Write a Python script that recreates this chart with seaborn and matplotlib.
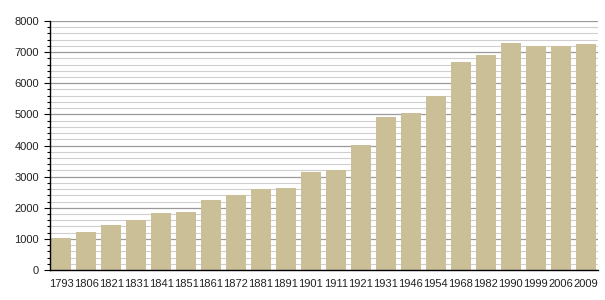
import matplotlib
matplotlib.use("Agg")
import matplotlib.pyplot as plt
from matplotlib.ticker import MultipleLocator
import seaborn as sns
import pandas as pd

years = ["1793", "1806", "1821", "1831", "1841", "1851", "1861", "1872", "1881", "1891", "1901",
         "1911", "1921", "1931", "1946", "1954", "1968", "1982", "1990", "1999", "2006", "2009"]
population = [1027, 1219, 1435, 1604, 1829, 1861, 2246, 2396, 2589, 2631, 3155,
              3199, 4011, 4910, 5037, 5595, 6688, 6913, 7299, 7212, 7212, 7267]

sns.set_style("white")
plt.rcParams['font.family'] = ['Liberation Sans', 'DejaVu Sans']

df = pd.DataFrame({"year": years, "pop": population})

fig = plt.figure(figsize=(6.05, 3.0), dpi=100)
ax = fig.add_axes([50/605, 30/300, 548/605, 249/300])

sns.barplot(data=df, x="year", y="pop", order=years, color="#CBBF98", saturation=1,
            width=0.8, ax=ax, zorder=3, linewidth=0)

ax.set_ylim(0, 8000)
ax.set_xlim(-0.45, 21.5)
ax.yaxis.set_major_locator(MultipleLocator(1000))
ax.yaxis.set_minor_locator(MultipleLocator(200))
ax.grid(which="major", axis="y", color="#9a9a9a", linewidth=0.9, zorder=0)
ax.grid(which="minor", axis="y", color="#cfcfcf", linewidth=0.8, zorder=0)
ax.set_axisbelow(True)

for s in ["top", "right"]:
    ax.spines[s].set_visible(False)
for s in ["left", "bottom"]:
    ax.spines[s].set_color("black")
    ax.spines[s].set_linewidth(1.0)
    ax.spines[s].set_zorder(5)

ax.tick_params(axis="y", which="major", left=True, length=4, width=0.8, color="black",
               labelsize=8, pad=4, labelcolor="#222222")
ax.tick_params(axis="y", which="minor", left=True, length=2.5, width=0.8, color="black")
ax.tick_params(axis="x", which="both", bottom=False, labelsize=8, pad=3, labelcolor="#222222")

ax.set_xlabel("")
ax.set_ylabel("")

fig.savefig("out.png", dpi=100, facecolor="white")
